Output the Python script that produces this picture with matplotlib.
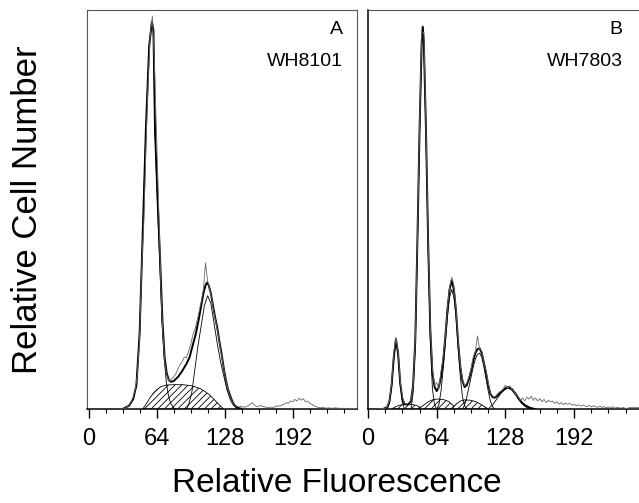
import numpy as np
import matplotlib
matplotlib.use("Agg")
import matplotlib.pyplot as plt
from matplotlib.ticker import MultipleLocator

plt.rcParams['font.family'] = ['Liberation Sans', 'DejaVu Sans']
plt.rcParams['hatch.linewidth'] = 0.6

# ---------------- Panel A : WH8101 ----------------
# raw histogram (channels 30, 32, ... )
rawA_start = 30
rawA_y = [0.0, 0.0, 0.002, 0.004, 0.01, 0.018, 0.03, 0.05, 0.09, 0.18,
          0.36, 0.47, 0.66, 0.82, 0.94, 0.985, 0.86, 0.68, 0.5, 0.31,
          0.18, 0.11, 0.08, 0.07, 0.075, 0.08, 0.088, 0.1, 0.112, 0.118,
          0.13, 0.128, 0.145, 0.16, 0.185, 0.2, 0.22, 0.245, 0.27, 0.3,
          0.366, 0.32, 0.3, 0.275, 0.24, 0.215, 0.185, 0.15, 0.12, 0.09,
          0.06, 0.04, 0.025, 0.012, 0.008, 0.006, 0.005, 0.007, 0.004, 0.006,
          0.008, 0.012, 0.016, 0.01, 0.006, 0.007, 0.009, 0.006, 0.005, 0.004,
          0.003, 0.005, 0.004, 0.006, 0.008, 0.007, 0.01, 0.012, 0.016, 0.014,
          0.02, 0.018, 0.024, 0.02, 0.027, 0.022, 0.026, 0.018, 0.02, 0.014,
          0.012, 0.008, 0.006, 0.004, 0.003, 0.004, 0.003, 0.002, 0.003, 0.002,
          0.002, 0.003, 0.002, 0.002, 0.001, 0.002, 0.001, 0.002, 0.001, 0.001,
          0.001, 0.001]

# total model fit (thick line)
fitA_x = [32, 38, 42, 45, 48, 49.5, 51.5, 54, 57, 59.5, 61, 62.5, 65, 67.5, 69.5,
          71.5, 73.5, 75.5, 78, 80, 84, 88, 92, 95, 98, 101, 104, 106, 108, 110,
          111.5, 113, 115, 117, 119, 121, 123, 125, 127, 129, 131, 133, 135, 137,
          140, 144]
fitA_y = [0.0, 0.008, 0.025, 0.06, 0.19, 0.32, 0.49, 0.71, 0.91, 0.97, 0.95, 0.7,
          0.52, 0.36, 0.22, 0.13, 0.09, 0.072, 0.068, 0.07, 0.08, 0.095, 0.113,
          0.13, 0.16, 0.19, 0.23, 0.26, 0.29, 0.31, 0.317, 0.31, 0.29, 0.26, 0.23,
          0.205, 0.17, 0.14, 0.105, 0.075, 0.05, 0.035, 0.02, 0.01, 0.004, 0.0]

# G1 component
g1A_x = [32, 38, 42, 45, 48, 49.5, 51.5, 54, 57, 59.5, 61, 62.5, 65, 67, 69,
         71, 73, 75, 77, 80, 82]
g1A_y = [0.0, 0.008, 0.025, 0.06, 0.19, 0.32, 0.49, 0.71, 0.91, 0.965, 0.94, 0.69,
         0.5, 0.36, 0.22, 0.13, 0.07, 0.035, 0.015, 0.003, 0.0]

# G2 component
g2A_x = [92, 94, 97, 100, 103, 106, 109, 112, 115, 118, 121, 124, 127, 130, 133,
         136, 140]
g2A_y = [0.0, 0.01, 0.04, 0.1, 0.16, 0.21, 0.26, 0.284, 0.265, 0.215, 0.165,
         0.12, 0.085, 0.05, 0.025, 0.01, 0.0]

# S phase (hatched)
sA_x = [51, 54, 57.5, 61, 64, 68, 73, 80, 88, 95, 100, 105, 110, 114, 118, 122,
        125, 127]
sA_y = [0.0, 0.012, 0.027, 0.04, 0.048, 0.056, 0.06, 0.061, 0.061, 0.059, 0.056,
        0.051, 0.043, 0.035, 0.024, 0.013, 0.005, 0.0]

# ---------------- Panel B : WH7803 ----------------
rawB_start = 10
rawB_y = [0.0, 0.0, 0.001, 0.002, 0.006, 0.022, 0.065, 0.14, 0.18, 0.145,
          0.07, 0.03, 0.015, 0.012, 0.016, 0.022, 0.06, 0.17, 0.42, 0.71,
          0.94, 0.945, 0.71, 0.43, 0.21, 0.1, 0.06, 0.066, 0.05, 0.095,
          0.13, 0.18, 0.255, 0.305, 0.33, 0.31, 0.25, 0.17, 0.11, 0.075,
          0.058, 0.065, 0.08, 0.1, 0.13, 0.145, 0.183, 0.15, 0.145, 0.115,
          0.095, 0.065, 0.04, 0.032, 0.03, 0.036, 0.042, 0.045, 0.05, 0.06,
          0.052, 0.058, 0.048, 0.044, 0.035, 0.03, 0.022, 0.028, 0.02, 0.03,
          0.025, 0.032, 0.022, 0.028, 0.02, 0.026, 0.018, 0.024, 0.016, 0.022,
          0.018, 0.02, 0.014, 0.018, 0.012, 0.016, 0.011, 0.015, 0.012, 0.014,
          0.01, 0.012, 0.008, 0.011, 0.007, 0.01, 0.008, 0.006, 0.009, 0.005,
          0.008, 0.006, 0.004, 0.007, 0.004, 0.006, 0.003, 0.005, 0.003, 0.006,
          0.002, 0.004, 0.003, 0.002, 0.004, 0.001, 0.002, 0.004, 0.003, 0.005,
          0.003, 0.004]

fitB_x = [14, 18, 20, 22, 24, 26, 28, 30, 32, 34, 36, 38, 40, 42, 44, 46, 48, 50,
          51, 52, 54, 56, 58, 60, 62, 64, 66, 68, 70, 72, 74, 76, 78, 80, 82, 84,
          86, 88, 90, 92, 94, 96, 98, 100, 102, 104, 106, 108, 110, 112, 114, 116,
          118, 120, 124, 128, 131, 134, 137, 140, 143, 146, 150, 155]
fitB_y = [0.0, 0.005, 0.02, 0.06, 0.13, 0.175, 0.14, 0.065, 0.025, 0.012, 0.011,
          0.013, 0.02, 0.06, 0.17, 0.42, 0.7, 0.92, 0.958, 0.92, 0.7, 0.42, 0.2,
          0.09, 0.055, 0.045, 0.055, 0.08, 0.12, 0.18, 0.25, 0.3, 0.322, 0.3,
          0.245, 0.165, 0.105, 0.07, 0.055, 0.06, 0.075, 0.095, 0.12, 0.14, 0.15,
          0.152, 0.14, 0.115, 0.09, 0.06, 0.038, 0.03, 0.028, 0.032, 0.043, 0.052,
          0.055, 0.05, 0.04, 0.028, 0.017, 0.01, 0.004, 0.0]

# individual peak components
p1B_x = [18, 20, 22, 24, 26, 28, 30, 32, 34]
p1B_y = [0.0, 0.015, 0.055, 0.125, 0.17, 0.135, 0.06, 0.015, 0.0]
p2B_x = [40, 42, 44, 46, 48, 50, 51, 52, 54, 56, 58, 60, 62, 64]
p2B_y = [0.0, 0.04, 0.15, 0.4, 0.68, 0.91, 0.945, 0.91, 0.68, 0.4, 0.17, 0.05,
         0.01, 0.0]
p3B_x = [64, 66, 68, 70, 72, 74, 76, 78, 80, 82, 84, 86, 88, 90, 92]
p3B_y = [0.0, 0.01, 0.045, 0.1, 0.16, 0.23, 0.28, 0.3, 0.28, 0.23, 0.15, 0.08,
         0.03, 0.008, 0.0]
p4B_x = [88, 90, 92, 94, 96, 98, 100, 102, 104, 106, 108, 110, 112, 114, 116, 118]
p4B_y = [0.0, 0.01, 0.03, 0.055, 0.08, 0.105, 0.125, 0.137, 0.14, 0.13, 0.105,
         0.075, 0.045, 0.02, 0.006, 0.0]
p5B_x = [112, 116, 120, 124, 128, 131, 134, 137, 140, 143, 146, 150]
p5B_y = [0.0, 0.01, 0.025, 0.04, 0.05, 0.052, 0.047, 0.037, 0.025, 0.015, 0.007,
         0.0]

# S-phase humps (hatched)
s1B_x = [22, 26, 30, 36, 42, 46, 49, 52]
s1B_y = [0.0, 0.006, 0.01, 0.012, 0.011, 0.008, 0.004, 0.0]
s2B_x = [47, 52, 56, 60, 65, 70, 75, 79, 83]
s2B_y = [0.0, 0.01, 0.018, 0.023, 0.025, 0.024, 0.019, 0.01, 0.0]
s3B_x = [78, 82, 86, 90, 95, 100, 105, 109, 112]
s3B_y = [0.0, 0.012, 0.02, 0.023, 0.022, 0.019, 0.012, 0.005, 0.0]

tick_major = [0, 64, 128, 192]

W, H = 639, 503
fig = plt.figure(figsize=(W / 100, H / 100), dpi=100)

def px_axes(l, r, t, b):
    return [l / W, 1 - b / H, (r - l) / W, (b - t) / H]

axA = fig.add_axes(px_axes(87, 357, 10, 409))
axB = fig.add_axes(px_axes(367.7, 638.5, 10, 409))


def style(ax, xlim, hide_right=False):
    ax.set_xlim(*xlim)
    ax.set_ylim(0, 1.0)
    ax.set_yticks([])
    ax.xaxis.set_major_locator(MultipleLocator(64))
    ax.xaxis.set_minor_locator(MultipleLocator(16))
    ax.set_xticks(tick_major)
    ax.set_xticklabels([str(t) for t in tick_major])
    ax.tick_params(axis='x', which='major', direction='out', length=6.5,
                   width=1.0, pad=7, labelsize=17, color='black')
    ax.tick_params(axis='x', which='minor', direction='out', length=3,
                   width=0.8, color='black')
    for s in ['top', 'left', 'right']:
        ax.spines[s].set_color('#555555')
        ax.spines[s].set_linewidth(0.8)
    ax.spines['bottom'].set_color('black')
    ax.spines['bottom'].set_linewidth(1.1)
    if hide_right:
        ax.spines['right'].set_visible(False)


def hatch(ax, x, y):
    ax.fill_between(x, 0, y, facecolor='white', edgecolor='black',
                    hatch='/////', linewidth=0.6, zorder=2)


# Panel A
style(axA, (-1.5, 252.5))
hatch(axA, sA_x, sA_y)
axA.plot(g1A_x, g1A_y, color='black', lw=0.6, zorder=3)
axA.plot(g2A_x, g2A_y, color='black', lw=0.6, zorder=3)
axA.plot(fitA_x, fitA_y, color='black', lw=1.4, zorder=4)
rawA_x = np.arange(rawA_start, rawA_start + 2 * len(rawA_y), 2)
axA.plot(rawA_x, rawA_y, color='#666666', lw=0.6, zorder=5)
axA.text(0.948, 0.95, 'A', transform=axA.transAxes, ha='right', va='center',
         fontsize=14)
axA.text(0.948, 0.87, 'WH8101', transform=axA.transAxes, ha='right',
         va='center', fontsize=14)

# Panel B
style(axB, (-0.3, 252), hide_right=True)
axB.spines['left'].set_color('black')
axB.spines['left'].set_linewidth(1.1)
for sx, sy in [(s1B_x, s1B_y), (s2B_x, s2B_y), (s3B_x, s3B_y)]:
    hatch(axB, sx, sy)
for cx, cy in [(p1B_x, p1B_y), (p2B_x, p2B_y), (p3B_x, p3B_y),
               (p4B_x, p4B_y), (p5B_x, p5B_y)]:
    axB.plot(cx, cy, color='black', lw=0.6, zorder=3)
axB.plot(fitB_x, fitB_y, color='black', lw=1.4, zorder=4)
rawB_x = np.arange(rawB_start, rawB_start + 2 * len(rawB_y), 2)
axB.plot(rawB_x, rawB_y, color='#666666', lw=0.6, zorder=5)
axB.text(0.941, 0.95, 'B', transform=axB.transAxes, ha='right', va='center',
         fontsize=14)
axB.text(0.941, 0.87, 'WH7803', transform=axB.transAxes, ha='right',
         va='center', fontsize=14)

fig.text(28 / W, 1 - 210 / H, 'Relative Cell Number', rotation=90,
         ha='center', va='center', fontsize=25)
fig.text(337 / W, 1 - 484 / H, 'Relative Fluorescence', ha='center',
         va='center', fontsize=24)

fig.savefig('out.png', dpi=100)
